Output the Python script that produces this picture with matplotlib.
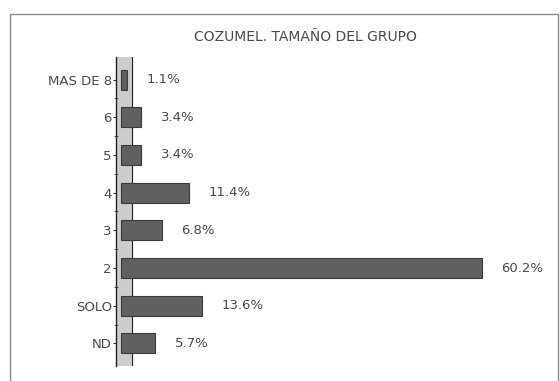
import matplotlib
matplotlib.use('Agg')
import matplotlib.pyplot as plt
from matplotlib.patches import Rectangle
from matplotlib.ticker import FixedLocator

plt.rcParams['font.family'] = ['DejaVu Sans']

# data, bottom to top
categories = ['ND', 'SOLO', '2', '3', '4', '5', '6', 'MAS DE 8']
values = [5.7, 13.6, 60.2, 6.8, 11.4, 3.4, 3.4, 1.1]
value_labels = ['5.7%', '13.6%', '60.2%', '6.8%', '11.4%', '3.4%', '3.4%', '1.1%']
title = 'COZUMEL. TAMAÑO DEL GRUPO'

fig = plt.figure(figsize=(5.6, 3.81), dpi=100)
fig.patch.set_facecolor('white')

# outer chart frame
fig.patches.append(Rectangle((0.018, -0.05), 0.978, 1.013, transform=fig.transFigure,
                             fill=False, edgecolor='#8a8a8a', linewidth=1.0))

ax = fig.add_axes([116 / 560, 1 - 366 / 381, 440 / 560, 309 / 381])
ypos = list(range(len(categories)))

# side wall of the 3d chart
ax.axvspan(-0.8, 1.9, color='#cdcdcd', zorder=0)
ax.axvline(1.9, color='#222222', lw=0.8, zorder=1)

bars = ax.barh(ypos, values, left=0, height=0.53, color='#606060',
               edgecolor='#3a3a3a', linewidth=0.8, zorder=2)

for y, v, lab in zip(ypos, values, value_labels):
    ax.annotate(lab, xy=(v, y), xytext=(14, 0), textcoords='offset points',
                ha='left', va='center', fontsize=9.5, color='#4a4a4a')

ax.set_xlim(-0.8, 72.5)
ax.set_ylim(-0.6, len(categories) - 0.4)
ax.set_yticks(ypos)
ax.set_yticklabels(categories, fontsize=9.5, color='#4a4a4a')
ax.yaxis.set_minor_locator(FixedLocator([y + 0.5 for y in ypos[:-1]]))
ax.tick_params(axis='y', which='major', length=2, pad=1, color='#333333')
ax.tick_params(axis='y', which='minor', length=3, direction='inout', color='#333333')
ax.set_xticks([])
for s in ['top', 'right', 'bottom']:
    ax.spines[s].set_visible(False)
ax.spines['left'].set_color('#222222')
ax.spines['left'].set_linewidth(1.0)

fig.text(305 / 560, 1 - 37 / 381, title, ha='center', va='center',
         fontsize=10, color='#4a4a4a')

fig.savefig('out.png', dpi=100)
